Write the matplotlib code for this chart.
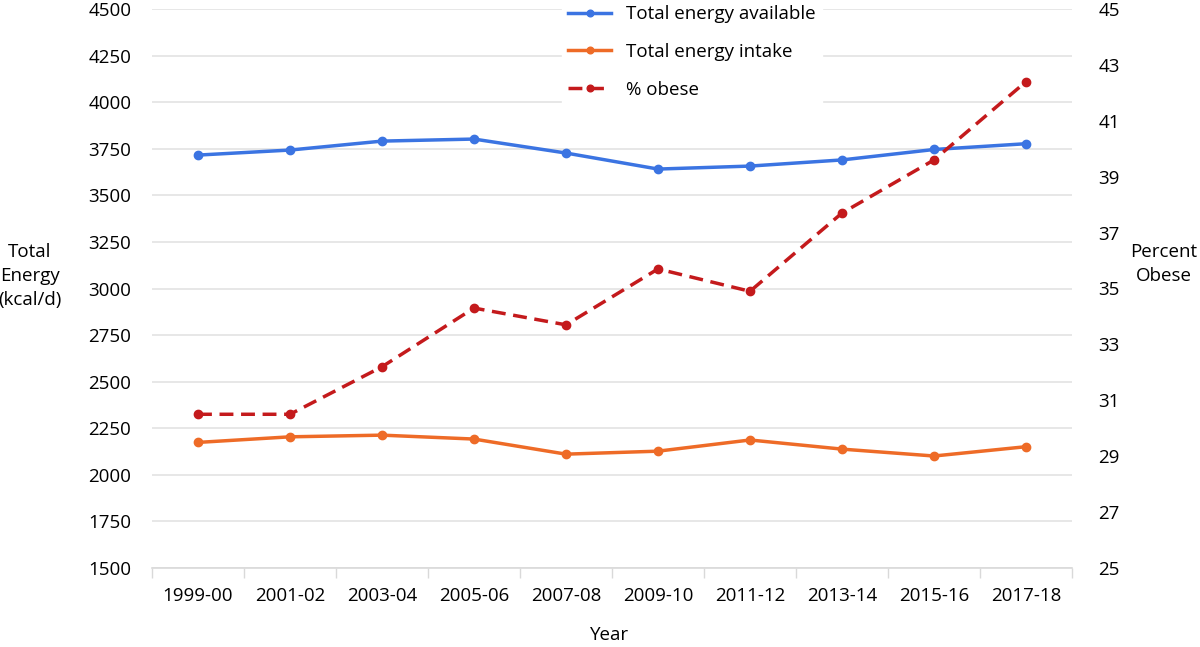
import numpy as np
import matplotlib.pyplot as plt

years = ["1999-00", "2001-02", "2003-04", "2005-06", "2007-08",
         "2009-10", "2011-12", "2013-14", "2015-16", "2017-18"]
energy_available = [3716, 3743, 3791, 3802, 3727, 3641, 3657, 3690, 3746, 3777]
energy_intake = [2174, 2204, 2213, 2192, 2111, 2127, 2187, 2138, 2101, 2151]
pct_obese = [30.5, 30.5, 32.2, 34.3, 33.7, 35.7, 34.9, 37.7, 39.6, 42.4]

plt.rcParams['font.family'] = ['Open Sans', 'DejaVu Sans']
plt.rcParams['font.size'] = 13.5

fig = plt.figure(figsize=(12, 6.47), dpi=100)
ax = fig.add_axes([152/1200, 1-568/647, 920/1200, 559/647])
ax2 = ax.twinx()

x = np.arange(len(years))
l1, = ax.plot(x, energy_available, color="#3b74e2", lw=2.5, marker="o", ms=6,
              label="Total energy available", zorder=3)
l2, = ax.plot(x, energy_intake, color="#ee6b27", lw=2.5, marker="o", ms=6,
              label="Total energy intake", zorder=3)
l3, = ax2.plot(x, pct_obese, color="#c41a1c", lw=2.5, ls=(0, (4, 2.2)), marker="o", ms=6,
               label="% obese", zorder=3)

ax.set_xlim(-0.5, len(years) - 0.5)
ax.set_ylim(1500, 4500)
ax.set_yticks(np.arange(1500, 4501, 250))
ax2.set_ylim(25, 45)
ax2.set_yticks(np.arange(25, 46, 2))

ax.set_xticks(x)
ax.set_xticklabels(years)
ax.set_xticks(np.arange(-0.5, len(years), 1), minor=True)
ax.tick_params(axis="x", which="major", length=0, pad=14)
ax.tick_params(axis="x", which="minor", length=7, color="#d9d9d9", width=1)
ax.tick_params(axis="y", length=0, pad=15)
ax2.tick_params(axis="y", length=0, pad=19)

ax.grid(axis="y", color="#e3e3e3", lw=1.2)
ax.set_axisbelow(True)
for s in ["top", "left", "right"]:
    ax.spines[s].set_visible(False)
    ax2.spines[s].set_visible(False)
ax2.spines["bottom"].set_visible(False)
ax.spines["bottom"].set_color("#d9d9d9")
ax.spines["bottom"].set_linewidth(1.2)

fig.text(30/1200, 1-276/647, "Total\nEnergy\n(kcal/d)", ha="center", va="center",
         fontsize=13.5, linespacing=1.45)
fig.text(1164/1200, 1-264/647, "Percent\nObese", ha="center", va="center",
         fontsize=13.5, linespacing=1.45)
fig.text(610/1200, 1-635/647, "Year", ha="center", va="center", fontsize=13.5)

leg = ax2.legend(handles=[l1, l2, l3], loc="upper left", bbox_to_anchor=(0.435, 1.035),
                 frameon=True, fancybox=False, edgecolor="white", framealpha=1,
                 handlelength=2.3, labelspacing=1.05, borderpad=0.35, fontsize=13.5,
                 markerscale=0.8)

fig.savefig("out.png", dpi=100)
